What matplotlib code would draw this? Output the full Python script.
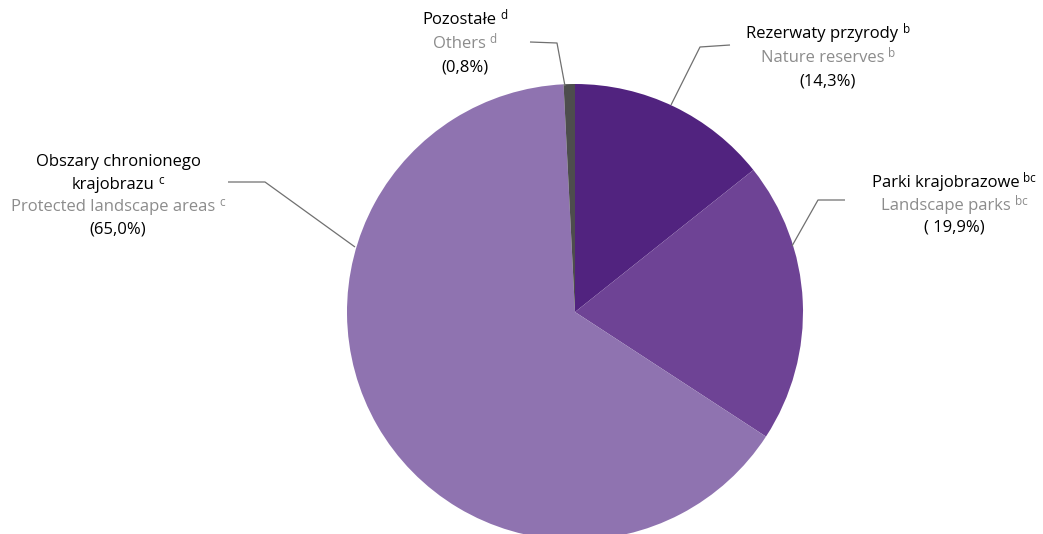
import matplotlib
matplotlib.use("Agg")
import matplotlib.pyplot as plt
import numpy as np

plt.rcParams['font.family'] = ['Open Sans', 'DejaVu Sans']

# Data (clockwise from top)
labels_pl = ["Rezerwaty przyrody", "Parki krajobrazowe", "Obszary chronionego\nkrajobrazu", "Pozostałe"]
labels_en = ["Nature reserves", "Landscape parks", "Protected landscape areas", "Others"]
sups = ["b", "bc", "c", "d"]
values = [14.3, 19.9, 65.0, 0.8]
pct_labels = ["(14,3%)", "( 19,9%)", "(65,0%)", "(0,8%)"]
colors = ["#51237f", "#6e4395", "#8f73b0", "#4d4d4d"]

W, H = 1043, 534
fig = plt.figure(figsize=(W / 100, H / 100), dpi=100)
ax = fig.add_axes([0, 0, 1, 1])

def py(y):
    return H - y

cx, cy, R = 575, 312, 228
ax.pie(values, colors=colors, startangle=90, counterclock=False,
       center=(cx, py(cy)), radius=R, frame=True,
       wedgeprops=dict(linewidth=0))
ax.set_xlim(0, W)
ax.set_ylim(0, H)
ax.set_aspect('equal')
ax.axis('off')

# leader lines (pixel coords)
leaders = [
    [(671, 105), (700, 47), (730, 45)],
    [(792, 246), (818, 200), (845, 200)],
    [(355, 247), (265, 182), (228, 182)],
    [(565, 86), (557, 43), (530, 42)],
]
for pts in leaders:
    xs = [p[0] for p in pts]
    ys = [py(p[1]) for p in pts]
    ax.plot(xs, ys, color="#707070", lw=0.9, solid_capstyle='butt')

# label blocks: (center x, list of line y's)
pos = [
    (828, [34, 58, 82]),
    (954, [183, 206, 228]),
    (118, [162, 185, 207, 229]),
    (465, [20, 44, 68]),
]
fs = 12.0
sfs = 8.5
gap = 4

renderer = fig.canvas.get_renderer()

def text_with_sup(x, y, main, s, color):
    tmp = ax.text(0, 0, s, fontsize=sfs)
    sw = tmp.get_window_extent(renderer).width
    tmp.remove()
    shift = (sw + gap) / 2
    t = ax.text(x - shift, py(y), main, ha='center', va='center',
                fontsize=fs, color=color)
    ax.annotate(s, xy=(1, 1), xycoords=t, xytext=(gap * 0.72, 2.5),
                textcoords='offset points', ha='left', va='top',
                fontsize=sfs, color=color)

for i, (x, ys) in enumerate(pos):
    pl_lines = labels_pl[i].split("\n")
    k = 0
    for j, l in enumerate(pl_lines):
        if j == len(pl_lines) - 1:
            text_with_sup(x, ys[k], l, sups[i], "#000000")
        else:
            ax.text(x, py(ys[k]), l, ha='center', va='center', fontsize=fs, color="#000000")
        k += 1
    text_with_sup(x, ys[k], labels_en[i], sups[i], "#8c8c8c")
    k += 1
    ax.text(x, py(ys[k]), pct_labels[i], ha='center', va='center', fontsize=fs, color="#000000")

fig.savefig("out.png", dpi=100)
